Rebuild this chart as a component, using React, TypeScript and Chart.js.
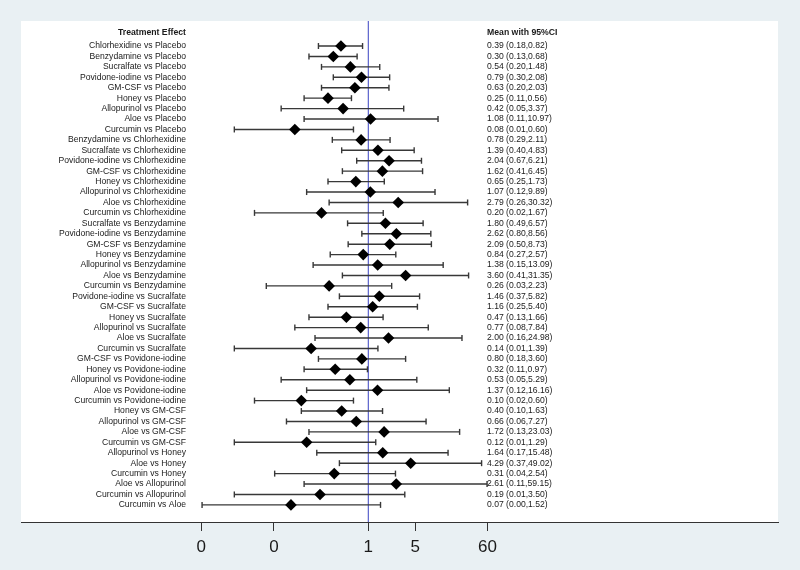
import React, { useEffect, useRef } from "react";
import { Chart, registerables } from "chart.js";

Chart.register(...registerables);

const comparisons: string[] = [
  "Chlorhexidine vs Placebo",
  "Benzydamine vs Placebo",
  "Sucralfate vs Placebo",
  "Povidone-iodine vs Placebo",
  "GM-CSF vs Placebo",
  "Honey vs Placebo",
  "Allopurinol vs Placebo",
  "Aloe vs Placebo",
  "Curcumin vs Placebo",
  "Benzydamine vs Chlorhexidine",
  "Sucralfate vs Chlorhexidine",
  "Povidone-iodine vs Chlorhexidine",
  "GM-CSF vs Chlorhexidine",
  "Honey vs Chlorhexidine",
  "Allopurinol vs Chlorhexidine",
  "Aloe vs Chlorhexidine",
  "Curcumin vs Chlorhexidine",
  "Sucralfate vs Benzydamine",
  "Povidone-iodine vs Benzydamine",
  "GM-CSF vs Benzydamine",
  "Honey vs Benzydamine",
  "Allopurinol vs Benzydamine",
  "Aloe vs Benzydamine",
  "Curcumin vs Benzydamine",
  "Povidone-iodine vs Sucralfate",
  "GM-CSF vs Sucralfate",
  "Honey vs Sucralfate",
  "Allopurinol vs Sucralfate",
  "Aloe vs Sucralfate",
  "Curcumin vs Sucralfate",
  "GM-CSF vs Povidone-iodine",
  "Honey vs Povidone-iodine",
  "Allopurinol vs Povidone-iodine",
  "Aloe vs Povidone-iodine",
  "Curcumin vs Povidone-iodine",
  "Honey vs GM-CSF",
  "Allopurinol vs GM-CSF",
  "Aloe vs GM-CSF",
  "Curcumin vs GM-CSF",
  "Allopurinol vs Honey",
  "Aloe vs Honey",
  "Curcumin vs Honey",
  "Aloe vs Allopurinol",
  "Curcumin vs Allopurinol",
  "Curcumin vs Aloe",
];

const means: number[] = [
  0.39, 0.30, 0.54, 0.79, 0.63, 0.25, 0.42, 1.08, 0.08,
  0.78, 1.39, 2.04, 1.62, 0.65, 1.07, 2.79, 0.20,
  1.80, 2.62, 2.09, 0.84, 1.38, 3.60, 0.26,
  1.46, 1.16, 0.47, 0.77, 2.00, 0.14,
  0.80, 0.32, 0.53, 1.37, 0.10,
  0.40, 0.66, 1.72, 0.12,
  1.64, 4.29, 0.31,
  2.61, 0.19,
  0.07,
];

const lows: number[] = [
  0.18, 0.13, 0.20, 0.30, 0.20, 0.11, 0.05, 0.11, 0.01,
  0.29, 0.40, 0.67, 0.41, 0.25, 0.12, 0.26, 0.02,
  0.49, 0.80, 0.50, 0.27, 0.15, 0.41, 0.03,
  0.37, 0.25, 0.13, 0.08, 0.16, 0.01,
  0.18, 0.11, 0.05, 0.12, 0.02,
  0.10, 0.06, 0.13, 0.01,
  0.17, 0.37, 0.04,
  0.11, 0.01,
  0.0033,
];

const highs: number[] = [
  0.82, 0.68, 1.48, 2.08, 2.03, 0.56, 3.37, 10.97, 0.60,
  2.11, 4.83, 6.21, 6.45, 1.73, 9.89, 30.32, 1.67,
  6.57, 8.56, 8.73, 2.57, 13.09, 31.35, 2.23,
  5.82, 5.40, 1.66, 7.84, 24.98, 1.39,
  3.60, 0.97, 5.29, 16.16, 0.60,
  1.63, 7.27, 23.03, 1.29,
  15.48, 49.02, 2.54,
  59.15, 3.50,
  1.52,
];

const tickValues: number[] = [0.0032, 0.039, 1, 5, 60];
const tickLabels: string[] = ["0", "0", "1", "5", "60"];

const leftHeader = "Treatment Effect";
const rightHeader = "Mean with 95%CI";
const nullLine = 1;

const FONT = '"Liberation Sans", Arial, Helvetica, sans-serif';

export default function App() {
  const ref = useRef<HTMLCanvasElement | null>(null);

  useEffect(() => {
    const canvas = ref.current;
    if (!canvas) return;

    const yMin = -2.4;
    const yMax = 45.64;

    const ciData: any[] = [];
    const capData: any[] = [];
    comparisons.forEach((_, i) => {
      ciData.push({ x: lows[i], y: i });
      ciData.push({ x: highs[i], y: i });
      ciData.push({ x: highs[i], y: null });
      capData.push({ x: lows[i], y: i });
      capData.push({ x: highs[i], y: i });
    });
    const meanData = comparisons.map((_, i) => ({ x: means[i], y: i }));

    const panelPlugin = {
      id: "panel",
      beforeDraw(chart: any) {
        const { ctx, chartArea } = chart;
        ctx.save();
        ctx.fillStyle = "#ffffff";
        ctx.fillRect(
          chartArea.left,
          chartArea.top,
          chartArea.right - chartArea.left,
          chartArea.bottom - chartArea.top
        );
        ctx.restore();
      },
    };

    const textPlugin = {
      id: "texts",
      afterDraw(chart: any) {
        const { ctx } = chart;
        const ys = chart.scales.y;
        ctx.save();
        ctx.fillStyle = "#1a1a1a";
        ctx.textBaseline = "middle";
        ctx.font = `bold 8.7px ${FONT}`;
        ctx.textAlign = "right";
        ctx.fillText(leftHeader, 186, ys.getPixelForValue(-1.25));
        ctx.textAlign = "left";
        ctx.fillText(rightHeader, 487, ys.getPixelForValue(-1.25));
        ctx.font = `8.6px ${FONT}`;
        comparisons.forEach((label, i) => {
          const y = ys.getPixelForValue(i);
          ctx.textAlign = "right";
          ctx.fillText(label, 186, y);
          ctx.textAlign = "left";
          const txt = `${means[i].toFixed(2)} (${lows[i].toFixed(2)},${highs[i].toFixed(2)})`;
          ctx.fillText(txt, 487, y);
        });
        ctx.restore();
      },
    };

    const chart = new Chart(canvas, {
      type: "scatter",
      data: {
        datasets: [
          {
            label: "means",
            data: meanData,
            pointStyle: "rectRot",
            pointRadius: 5.8,
            backgroundColor: "#000000",
            borderColor: "#000000",
            borderWidth: 0,
            showLine: false,
            order: 0,
          },
          {
            label: "caps",
            data: capData,
            pointStyle: "line",
            rotation: 90,
            pointRadius: 3,
            borderColor: "#383838",
            borderWidth: 1.4,
            showLine: false,
            order: 1,
          } as any,
          {
            label: "ci",
            data: ciData,
            showLine: true,
            spanGaps: false,
            borderColor: "#383838",
            borderWidth: 1.4,
            pointRadius: 0,
            order: 2,
          },
          {
            label: "null",
            data: [
              { x: nullLine, y: yMin },
              { x: nullLine, y: yMax },
            ],
            showLine: true,
            borderColor: "#5a62cc",
            borderWidth: 1.2,
            pointRadius: 0,
            order: 3,
          },
        ],
      },
      options: {
        animation: false,
        responsive: false,
        devicePixelRatio: 1,
        layout: { padding: { left: 21, right: 22, top: 21, bottom: 0 } },
        plugins: {
          legend: { display: false },
          tooltip: { enabled: false },
        },
        scales: {
          x: {
            type: "logarithmic",
            min: 6.55e-6,
            max: 1.3e6,
            afterBuildTicks: (scale: any) => {
              scale.ticks = tickValues.map((v) => ({ value: v }));
            },
            afterFit: (scale: any) => {
              scale.height = 48;
            },
            ticks: {
              autoSkip: false,
              maxRotation: 0,
              minRotation: 0,
              padding: 6,
              color: "#1a1a1a",
              font: { family: FONT, size: 17 },
              callback: (_v: any, i: number) => tickLabels[i],
            },
            grid: {
              drawOnChartArea: false,
              drawTicks: true,
              tickLength: 9,
              color: "#333333",
              lineWidth: 1,
            },
            border: { display: true, color: "#333333", width: 1 },
          },
          y: {
            type: "linear",
            reverse: true,
            min: yMin,
            max: yMax,
            display: false,
          },
        },
      },
      plugins: [panelPlugin, textPlugin],
    } as any);

    return () => chart.destroy();
  }, []);

  return (
    <div
      style={{
        position: "fixed",
        left: 0,
        top: 0,
        width: 800,
        height: 570,
        background: "#e9f0f3",
      }}
    >
      <canvas ref={ref} width={800} height={570} />
    </div>
  );
}
